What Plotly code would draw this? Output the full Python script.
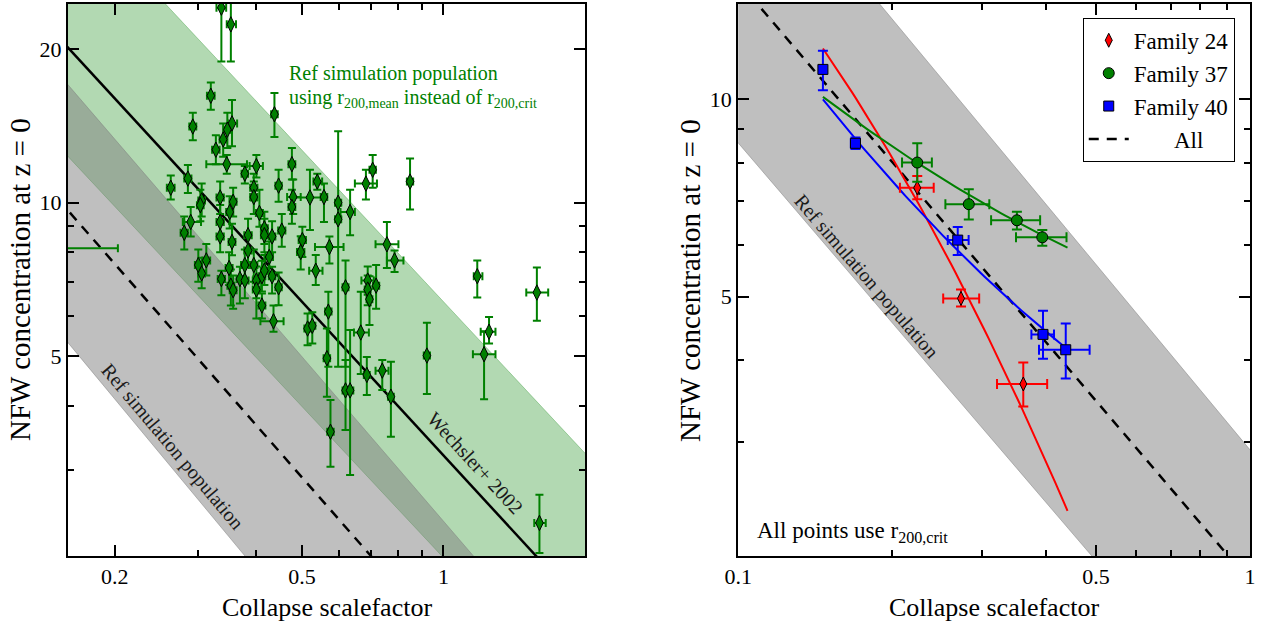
import numpy as np
import plotly.graph_objects as go

# ---------------- LEFT PANEL: individual haloes ----------------
# collapse scale factor a, NFW concentration c, and error-bar ends
a_left = [0.337, 0.353, 0.320, 0.293, 0.437, 0.355, 0.347, 0.340, 0.328, 0.346,
          0.378, 0.400, 0.476, 0.286, 0.263, 0.446, 0.539, 0.395, 0.395, 0.335,
          0.306, 0.304, 0.357, 0.479, 0.520, 0.557, 0.597, 0.476, 0.633, 0.597,
          0.406, 0.351, 0.335, 0.290, 0.281, 0.335, 0.384, 0.416, 0.416, 0.432,
          0.453, 0.355, 0.501, 0.497, 0.572, 0.384, 0.313, 0.301, 0.306, 0.350,
          0.378, 0.395, 0.426, 0.535, 0.337, 0.353, 0.357, 0.369, 0.378, 0.400,
          0.400, 0.411, 0.416, 0.432, 0.446, 0.411, 0.435, 0.619, 0.569, 0.514,
          0.526, 0.565, 0.619, 0.633, 0.707, 0.684, 0.849, 0.758, 0.787, 0.690,
          0.719, 0.690, 0.696, 0.667, 0.687, 0.741, 0.773, 0.922, 0.575, 1.18,
          1.58, 1.25, 1.22, 1.60, 0.14]
c_left = [24.1, 22.35, 16.2, 14.1, 14.9, 14.3, 13.9, 13.3, 12.7, 11.9,
          11.4, 11.8, 11.9, 11.15, 10.7, 10.8, 11.0, 10.7, 10.26, 10.24,
          10.1, 9.89, 10.04, 10.26, 10.24, 10.26, 10.0, 9.81, 9.59, 9.28,
          9.55, 9.59, 9.17, 9.17, 8.73, 8.59, 8.64, 8.91, 8.64, 8.59,
          8.82, 8.38, 8.45, 8.01, 8.19, 8.06, 7.71, 7.55, 7.27, 7.45,
          7.55, 7.55, 7.83, 7.36, 7.09, 6.88, 6.74, 7.09, 7.04, 7.04,
          6.76, 7.18, 7.36, 7.18, 6.83, 6.29, 5.86, 6.83, 6.12, 5.67,
          5.74, 4.96, 4.29, 4.29, 11.6, 10.9, 11.0, 8.29, 7.71, 7.04,
          6.88, 6.76, 6.47, 5.57, 4.60, 4.69, 4.17, 5.02, 3.56, 7.18,
          6.67, 5.59, 5.05, 2.36, 8.14]
c_left_lo = [18.9, 18.9, 15.2, 13.25, 13.45, 12.9, 12.8, 12.3, 11.9, 11.4,
             10.9, 11.2, 11.1, 10.45, 10.15, 10.04, 10.6, 10.1, 9.5, 9.5,
             9.4, 9.2, 9.4, 9.5, 8.84, 9.17, 9.38, 9.1, 8.64, 4.77,
             8.97, 8.9, 8.5, 8.59, 8.1, 8.0, 8.0, 8.3, 8.0, 8.0,
             8.2, 7.89, 7.83, 7.4, 7.6, 7.5, 7.2, 7.0, 6.8, 6.9,
             7.0, 7.0, 7.3, 6.9, 6.59, 6.29, 6.2, 6.35, 6.5, 6.5,
             5.93, 6.7, 6.9, 6.64, 6.3, 5.93, 5.59, 4.77, 4.77, 5.26,
             5.3, 4.17, 3.59, 2.93, 10.7, 10.15, 9.7, 7.45, 7.32, 6.6,
             6.20, 6.3, 5.76, 4.62, 4.20, 4.3, 3.48, 4.22, 3.04, 6.52,
             5.87, 5.3, 4.12, 2.06, 7.9]
c_left_hi = [30.0, 24.6, 17.2, 15.0, 16.4, 15.9, 15.0, 14.3, 13.55, 12.4,
             11.8, 12.4, 12.8, 11.85, 11.3, 11.6, 11.4, 11.4, 11.0, 11.0,
             10.9, 10.6, 10.7, 11.1, 11.6, 10.9, 13.8, 10.6, 10.6, 9.9,
             10.6, 10.3, 9.9, 9.81, 9.4, 9.2, 9.3, 9.6, 9.3, 9.2,
             9.5, 9.10, 8.97, 8.6, 8.59, 8.7, 8.3, 8.1, 7.8, 8.0,
             8.1, 8.1, 8.4, 7.9, 7.36, 7.4, 7.2, 7.49, 7.5, 7.5,
             7.18, 7.7, 7.9, 7.49, 7.3, 6.64, 6.29, 7.71, 6.69, 6.07,
             6.1, 5.67, 4.92, 5.63, 12.4, 11.6, 12.2, 9.17, 8.06, 7.5,
             7.55, 7.2, 7.18, 6.69, 4.99, 4.92, 4.88, 5.82, 4.11, 7.71,
             7.47, 5.97, 5.6, 2.68, 8.4]
a_left_lo = [0.329, 0.346, 0.314, 0.288, 0.430, 0.348, 0.341, 0.334, 0.322, 0.313,
             0.372, 0.387, 0.468, 0.281, 0.258, 0.439, 0.529, 0.388, 0.388, 0.329,
             0.301, 0.299, 0.351, 0.465, 0.479, 0.548, 0.588, 0.468, 0.604, 0.588,
             0.399, 0.345, 0.329, 0.279, 0.276, 0.329, 0.377, 0.409, 0.409, 0.425,
             0.445, 0.349, 0.492, 0.488, 0.533, 0.377, 0.307, 0.296, 0.301, 0.344,
             0.371, 0.388, 0.418, 0.518, 0.331, 0.347, 0.351, 0.363, 0.371, 0.393,
             0.393, 0.404, 0.409, 0.425, 0.439, 0.404, 0.408, 0.610, 0.560, 0.506,
             0.518, 0.556, 0.610, 0.623, 0.696, 0.648, 0.836, 0.717, 0.758, 0.669,
             0.708, 0.680, 0.686, 0.645, 0.677, 0.717, 0.762, 0.908, 0.566, 1.16,
             1.50, 1.20, 1.155, 1.56, 0.10]
a_left_hi = [0.345, 0.362, 0.326, 0.298, 0.444, 0.364, 0.353, 0.346, 0.334, 0.382,
             0.384, 0.413, 0.484, 0.291, 0.268, 0.453, 0.552, 0.402, 0.402, 0.341,
             0.311, 0.309, 0.363, 0.497, 0.560, 0.566, 0.606, 0.484, 0.648, 0.606,
             0.413, 0.357, 0.341, 0.305, 0.286, 0.341, 0.391, 0.423, 0.423, 0.439,
             0.461, 0.361, 0.510, 0.506, 0.613, 0.391, 0.319, 0.306, 0.311, 0.356,
             0.385, 0.402, 0.434, 0.553, 0.343, 0.359, 0.363, 0.375, 0.385, 0.407,
             0.407, 0.418, 0.423, 0.439, 0.453, 0.418, 0.457, 0.628, 0.578, 0.522,
             0.534, 0.574, 0.628, 0.643, 0.718, 0.722, 0.862, 0.802, 0.822, 0.711,
             0.730, 0.700, 0.706, 0.694, 0.697, 0.764, 0.784, 0.936, 0.584, 1.21,
             1.67, 1.29, 1.29, 1.65, 0.203]

# ---------------- RIGHT PANEL: three halo families ----------------
fam_names = ["Family 24", "Family 37", "Family 40"]
all_name = "All"
fam24_a = [0.2238, 0.2725, 0.3606]
fam24_c = [7.33, 4.97, 3.68]
fam24_a_lo = [0.207, 0.2515, 0.3204]
fam24_a_hi = [0.241, 0.2957, 0.4015]
fam24_c_lo = [7.04, 4.83, 3.40]
fam24_c_hi = [7.64, 5.13, 3.97]

fam37_a = [0.2238, 0.2822, 0.3504, 0.3928]
fam37_c = [8.01, 6.92, 6.54, 6.16]
fam37_a_lo = [0.209, 0.254, 0.312, 0.349]
fam37_a_hi = [0.239, 0.3095, 0.389, 0.438]
fam37_c_lo = [7.49, 6.56, 6.33, 5.98]
fam37_c_hi = [8.57, 7.29, 6.74, 6.32]

fam40_a = [0.1464, 0.1695, 0.2685, 0.394, 0.4365]
fam40_c = [11.11, 8.57, 6.10, 4.38, 4.15]
fam40_a_lo = [0.1464, 0.166, 0.2567, 0.374, 0.387]
fam40_a_hi = [0.1464, 0.173, 0.282, 0.414, 0.486]
fam40_c_lo = [10.33, 8.40, 5.79, 4.02, 3.75]
fam40_c_hi = [11.86, 8.75, 6.39, 4.76, 4.55]

# ---------------- relations c = A * a^(-p) ----------------
wechsler = (3.2, 1.0)
left_green_up = (6.40, 0.986)
left_green_lo = (2.017, 0.984)
left_gray_up = (2.379, 1.07)
left_gray_lo = (0.691, 1.11)
left_dash = (1.40, 1.05)
right_gray_up = (2.92, 0.940)
right_gray_lo = (1.051, 0.912)
right_dash = (1.84, 0.915)
# family fits: log10 c = k0 + k1*log10 a + k2*(log10 a)^2
fit24 = (-0.3657, -2.3239, -0.712)
fit37 = (0.6688, -0.2146, 0.224)
fit40 = (0.44323, -0.36259, 0.365)
fit_range = (0.1464, 0.44)

# axis ranges
left_xr = (0.159, 2.0)
left_yr = (2.033, 24.5)
right_xr = (0.1, 1.0)
right_yr = (2.011, 13.98)

SERIF = "Liberation Serif"
GREEN = "rgb(0,128,0)"
GREEN_BAND = "rgba(0,128,0,0.3)"
GRAY_BAND = "rgba(128,128,128,0.5)"


def power(rel, a):
    return rel[0] * np.asarray(a) ** (-rel[1])


def quad(fit, a):
    u = np.log10(a)
    return 10 ** (fit[0] + fit[1] * u + fit[2] * u * u)


def band(up, lo, amin, amax, color, xa, ya):
    aa = np.geomspace(amin, amax, 60)
    xs = np.concatenate([aa, aa[::-1]])
    ys = np.concatenate([power(up, aa), power(lo, aa[::-1])])
    return go.Scatter(x=xs, y=ys, fill="toself", fillcolor=color, mode="lines",
                      line=dict(color=color, width=1), xaxis=xa, yaxis=ya,
                      showlegend=False, hoverinfo="skip")


def diff(hi, mid):
    return list(np.array(hi) - np.array(mid))


fig = go.Figure()

# ---- left panel ----
fig.add_trace(band(left_green_up, left_green_lo, 0.12, 2.5, GREEN_BAND, "x", "y"))
fig.add_trace(band(left_gray_up, left_gray_lo, 0.12, 2.5, GRAY_BAND, "x", "y"))
aa = np.geomspace(0.12, 2.5, 80)
fig.add_trace(go.Scatter(x=aa, y=power(left_dash, aa), mode="lines",
                         line=dict(color="black", width=2.5, dash="10px,8px"),
                         xaxis="x", yaxis="y", showlegend=False))
fig.add_trace(go.Scatter(x=aa, y=power(wechsler, aa), mode="lines",
                         line=dict(color="black", width=2.5),
                         xaxis="x", yaxis="y", showlegend=False))
fig.add_trace(go.Scatter(
    x=a_left, y=c_left, mode="markers", xaxis="x", yaxis="y", showlegend=False,
    marker=dict(symbol="diamond-tall", size=11, color=GREEN,
                line=dict(color="black", width=1)),
    error_x=dict(type="data", symmetric=False, array=diff(a_left_hi, a_left),
                 arrayminus=diff(a_left, a_left_lo), color=GREEN, thickness=2, width=4),
    error_y=dict(type="data", symmetric=False, array=diff(c_left_hi, c_left),
                 arrayminus=diff(c_left, c_left_lo), color=GREEN, thickness=2, width=4),
))

# ---- right panel ----
fig.add_trace(band(right_gray_up, right_gray_lo, 0.08, 1.2, GRAY_BAND, "x2", "y2"))
ar = np.geomspace(0.09, 1.1, 80)
fig.add_trace(go.Scatter(x=ar, y=power(right_dash, ar), mode="lines",
                         name="\u00a0" * 7 + all_name,
                         line=dict(color="black", width=2.5, dash="10px,8px"),
                         xaxis="x2", yaxis="y2", legendrank=4))
af = np.geomspace(fit_range[0], fit_range[1], 60)
for fit, col in [(fit24, "rgb(255,0,0)"), (fit37, GREEN), (fit40, "rgb(0,0,255)")]:
    fig.add_trace(go.Scatter(x=af, y=quad(fit, af), mode="lines",
                             line=dict(color=col, width=2), xaxis="x2", yaxis="y2",
                             showlegend=False))

fams = [
    (fam24_a, fam24_c, fam24_a_lo, fam24_a_hi, fam24_c_lo, fam24_c_hi,
     "rgb(255,0,0)", "diamond-tall", 10),
    (fam37_a, fam37_c, fam37_a_lo, fam37_a_hi, fam37_c_lo, fam37_c_hi,
     GREEN, "circle", 11),
    (fam40_a, fam40_c, fam40_a_lo, fam40_a_hi, fam40_c_lo, fam40_c_hi,
     "rgb(0,0,255)", "square", 10),
]
for i, (fa, fc, falo, fahi, fclo, fchi, col, sym, sz) in enumerate(fams):
    fig.add_trace(go.Scatter(
        x=fa, y=fc, mode="markers", name=fam_names[i], xaxis="x2", yaxis="y2",
        legendrank=i + 1,
        marker=dict(symbol=sym, size=sz, color=col, line=dict(color="black", width=1)),
        error_x=dict(type="data", symmetric=False, array=diff(fahi, fa),
                     arrayminus=diff(fa, falo), color=col, thickness=2, width=5),
        error_y=dict(type="data", symmetric=False, array=diff(fchi, fc),
                     arrayminus=diff(fc, fclo), color=col, thickness=2, width=5),
    ))

tickfont = dict(family=SERIF, size=22, color="black")


def axis(rng, domain, tv, tt, minor_vals, anchor):
    return dict(type="log", range=[np.log10(rng[0]), np.log10(rng[1])], domain=domain,
                tickvals=tv, ticktext=tt, ticks="inside", ticklen=11, tickwidth=1.5,
                tickcolor="black", showline=True, linecolor="black", linewidth=2,
                mirror="ticks", showgrid=False, zeroline=False, tickfont=tickfont,
                anchor=anchor, automargin=False,
                minor=dict(tickvals=minor_vals, ticks="inside", ticklen=6,
                           tickwidth=1.5, tickcolor="black", showgrid=False))


left_x_ticks = [0.2, 0.5, 1]
left_x_minor = [0.3, 0.4, 0.6, 0.7, 0.8, 0.9, 2]
left_y_ticks = [5, 10, 20]
left_y_minor = [3, 4, 6, 7, 8, 9]
right_x_ticks = [0.1, 0.5, 1]
right_x_minor = [0.2, 0.3, 0.4, 0.6, 0.7, 0.8, 0.9]
right_y_ticks = [5, 10]
right_y_minor = [3, 4, 6, 7, 8, 9]

fig.update_layout(
    width=1265, height=622,
    margin=dict(l=68, r=15, t=4, b=66, autoexpand=False),
    paper_bgcolor="white", plot_bgcolor="white",
    font=dict(family=SERIF, color="black", size=20),
    xaxis=axis(left_xr, [0, 0.4374], left_x_ticks, ["0.2", "0.5", "1"], left_x_minor, "y"),
    yaxis=axis(left_yr, [0, 1], left_y_ticks, ["5", "10", "20"], left_y_minor, "x"),
    xaxis2=axis(right_xr, [0.567, 1.0], right_x_ticks, ["0.1", "0.5", "1"], right_x_minor, "y2"),
    yaxis2=axis(right_yr, [0, 1], right_y_ticks, ["5", "10"], right_y_minor, "x2"),
    legend=dict(x=0.8585, y=0.975, xanchor="left", yanchor="top",
                bgcolor="white", bordercolor="black", borderwidth=1,
                font=dict(family=SERIF, size=23, color="black"),
                itemwidth=40, tracegroupgap=0),
    showlegend=True,
)

ann = []
txt = dict(family=SERIF, size=20, color="#1a1a1a")
gtxt = dict(family=SERIF, size=20, color=GREEN)
ann.append(dict(x=np.log10(0.265), y=np.log10(3.33), xref="x", yref="y",
                xanchor="center", yanchor="middle",
                text="Ref simulation population", textangle=50, showarrow=False, font=txt))
ann.append(dict(x=np.log10(1.168), y=np.log10(3.09), xref="x", yref="y",
                xanchor="center", yanchor="middle",
                text="Wechsler+ 2002", textangle=47.4, showarrow=False, font=txt))
ann.append(dict(x=np.log10(0.464), y=np.log10(17.9), xref="x", yref="y",
                xanchor="left", yanchor="middle",
                text="Ref simulation population", showarrow=False, font=gtxt))
ann.append(dict(x=np.log10(0.464), y=np.log10(16.0), xref="x", yref="y",
                xanchor="left", yanchor="middle",
                text="using r<sub>200,mean</sub> instead of r<sub>200,crit</sub>",
                showarrow=False, font=gtxt))
ann.append(dict(x=np.log10(0.1781), y=np.log10(5.37), xref="x2", yref="y2",
                xanchor="center", yanchor="middle",
                text="Ref simulation population", textangle=49.2, showarrow=False, font=txt))
ann.append(dict(x=np.log10(0.1078), y=np.log10(2.19), xref="x2", yref="y2",
                xanchor="left", yanchor="middle",
                text="All points use r<sub>200,crit</sub>", showarrow=False,
                font=dict(family=SERIF, size=23, color="black")))
xtitle_font = dict(family=SERIF, size=26, color="black")
ytitle_font = dict(family=SERIF, size=29, color="black")
for xc in (0.2187, 0.7834):
    ann.append(dict(x=xc, y=-0.0924, xref="paper", yref="paper", xanchor="center",
                    yanchor="middle", text="Collapse scalefactor",
                    showarrow=False, font=xtitle_font))
for xc in (-0.0406, 0.5262):
    ann.append(dict(x=xc, y=0.5, xref="paper", yref="paper", xanchor="center",
                    yanchor="middle", text="NFW concentration at z = 0",
                    textangle=-90, showarrow=False, font=ytitle_font))
fig.update_layout(annotations=ann)

fig.write_html("out.html", config={"displayModeBar": False},
               post_script="document.body.style.margin='0px';"
                           "document.body.style.overflow='hidden';")
